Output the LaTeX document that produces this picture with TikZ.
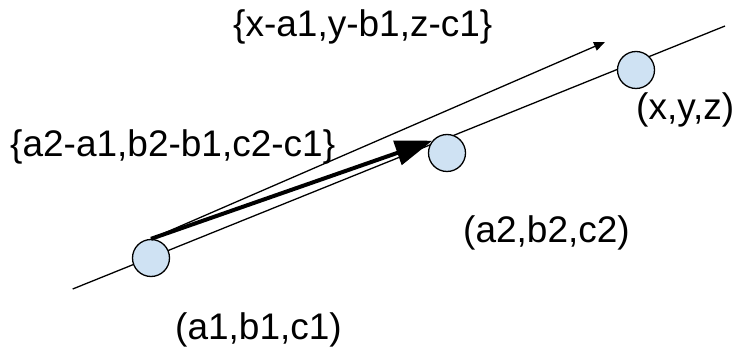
\documentclass[tikz,border=0pt]{standalone}
\usepackage{fontspec}
\setmainfont{Liberation Sans}
\usetikzlibrary{arrows.meta}
\definecolor{circfill}{HTML}{CFE2F3}
\begin{document}
\begin{tikzpicture}[x=1pt,y=-1pt,
  pt/.style={circle,draw=black,line width=1.3pt,fill=circfill,minimum size=37pt,inner sep=0pt},
  lbl/.style={anchor=base west,inner sep=0pt,font=\fontsize{37}{41}\selectfont},
  thin/.style={line width=1.3pt},
  thinarrow/.style={line width=1.3pt,-{Triangle[length=11pt,width=9pt]}},
  thickarrow/.style={line width=4pt,-{Triangle[length=37pt,width=25pt]}}]
\useasboundingbox (0,0) rectangle (744,352);
\coordinate (lineA) at (72.7,289);
\coordinate (lineB) at (725,26);
\coordinate (tipA) at (605,42);
\draw[thin] (lineA) -- (lineB);
\node[pt] (c1) at (151,258) {};
\node[pt] (c2) at (447,153) {};
\node[pt] (c3) at (636,70) {};
\draw[thinarrow] (c1.north) -- (tipA);
\draw[thickarrow] (c1.north) -- (c2.140);
\node[lbl] (t1) at (233,36.5) {\{x-a1,y-b1,z-c1\}};
\node[lbl] (t2) at (10,157) {\{a2-a1,b2-b1,c2-c1\}};
\node[lbl] (t3) at (636,120) {(x,y,z)};
\node[lbl] (t4) at (463,243) {(a2,b2,c2)};
\node[lbl] (t5) at (175,340) {(a1,b1,c1)};
\end{tikzpicture}
\end{document}
